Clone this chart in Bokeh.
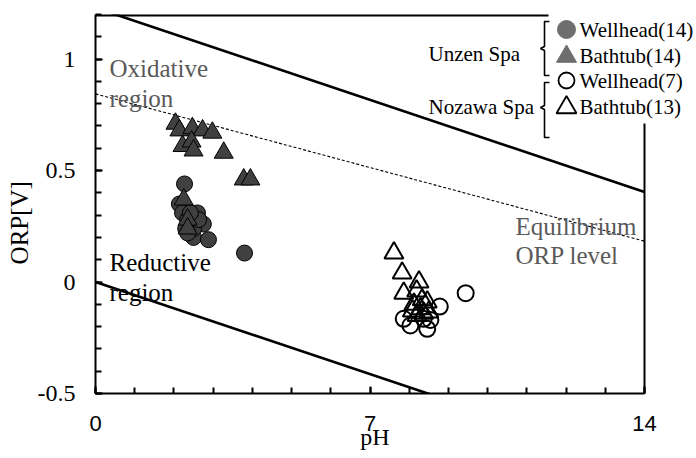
from bokeh.plotting import figure
from bokeh.models import Range1d, FixedTicker, CustomJSTickFormatter, Label
from bokeh.embed import file_html
from bokeh.resources import INLINE

# ---------------- data ----------------
unzen_well_ph = [2.27, 2.14, 2.22, 2.60, 2.75, 2.50, 2.88, 3.80, 2.35, 2.50, 2.30, 2.63, 2.42, 2.35]
unzen_well_orp = [0.44, 0.35, 0.31, 0.31, 0.26, 0.20, 0.19, 0.13, 0.28, 0.24, 0.24, 0.28, 0.31, 0.22]

unzen_bath_ph = [2.04, 2.14, 2.47, 2.73, 2.98, 2.22, 2.45, 2.50, 3.27, 3.78, 3.95, 2.25, 2.35, 2.35]
unzen_bath_orp = [0.71, 0.68, 0.69, 0.68, 0.67, 0.61, 0.63, 0.59, 0.58, 0.46, 0.46, 0.37, 0.28, 0.24]

nozawa_well_ph = [9.44, 8.78, 7.86, 8.03, 8.37, 8.46, 8.54]
nozawa_well_orp = [-0.05, -0.11, -0.165, -0.195, -0.165, -0.21, -0.17]

nozawa_bath_ph = [7.61, 7.82, 8.25, 7.86, 8.19, 8.33, 8.12, 8.46, 8.08, 8.29, 8.37, 8.50, 8.20]
nozawa_bath_orp = [0.13, 0.04, 0.00, -0.05, -0.04, -0.08, -0.10, -0.09, -0.13, -0.12, -0.14, -0.135, -0.15]

line_ph = [0, 14]
upper_orp = [1.23, 0.404]
lower_orp = [0.0, -0.826]
equil_orp = [0.844, 0.183]

x_ticks = [0, 7, 14]
x_minor = list(range(0, 15))
y_ticks = [-0.5, 0, 0.5, 1]
y_minor = [round(-0.5 + 0.1 * i, 1) for i in range(0, 18)]

legend_labels = ["Wellhead(14)", "Bathtub(14)", "Wellhead(7)", "Bathtub(13)"]
group_labels = ["Unzen Spa", "Nozawa Spa"]
x_title = "pH"
y_title = "ORP[V]"

SERIF = "Liberation Serif"
SANS = "Liberation Sans"
GRAY_TEXT = "#5a5a5a"
NBSP = "\u00a0"

# layout: plot frame from x=95 to the canvas edge; pH 14 sits at x=644
FL, FR, FT, FB = 95, 644, 14, 393
W, H = 696, 458
x_end = 14 * (W - FL) / (FR - FL)

p = figure(width=W, height=H, x_range=Range1d(0, x_end), y_range=Range1d(-0.5, 1.2),
           output_backend="svg", toolbar_location=None,
           min_border_left=FL, min_border_right=0, min_border_top=FT, min_border_bottom=H - FB)
p.outline_line_color = None
p.xgrid.grid_line_color = None
p.ygrid.grid_line_color = None
p.background_fill_color = "white"
p.border_fill_color = "white"

# pixel-space helper ranges for decorations
p.extra_x_ranges = {"px": Range1d(FL, W)}
p.extra_y_ranges = {"py": Range1d(FB, FT)}

# axes
xa = p.xaxis[0]
xa.bounds = (0, 14)
xa.ticker = FixedTicker(ticks=x_ticks, minor_ticks=x_minor)
xa.axis_line_width = 2
xa.major_tick_in = 7
xa.major_tick_out = 0
xa.minor_tick_in = 6
xa.minor_tick_out = 0
xa.major_tick_line_width = 2
xa.minor_tick_line_width = 2
xa.major_label_text_font = SANS
xa.major_label_text_font_size = "22px"
xa.major_label_text_color = "black"
xa.major_label_standoff = 22
# trailing no-break spaces shift the centred title left, onto the pH 0-14 span
xa.axis_label = x_title + NBSP * 7
xa.axis_label_text_font = SERIF
xa.axis_label_text_font_size = "24px"
xa.axis_label_text_font_style = "normal"
xa.axis_label_text_color = "black"
xa.axis_label_standoff = -10

ya = p.yaxis[0]
ya.ticker = FixedTicker(ticks=y_ticks, minor_ticks=y_minor)
ya.formatter = CustomJSTickFormatter(code="return String(tick);")
ya.axis_line_width = 2
ya.major_tick_in = 7
ya.major_tick_out = 0
ya.minor_tick_in = 6
ya.minor_tick_out = 0
ya.major_tick_line_width = 2
ya.minor_tick_line_width = 2
ya.major_label_text_font = SERIF
ya.major_label_text_font_size = "24px"
ya.major_label_text_color = "black"
ya.major_label_standoff = 20
ya.axis_label = y_title + NBSP * 6
ya.axis_label_text_font = SERIF
ya.axis_label_text_font_size = "25px"
ya.axis_label_text_font_style = "normal"
ya.axis_label_text_color = "black"
ya.axis_label_standoff = 2

# frame: top edge (stops before legend) and right edge (starts below legend)
p.segment(x0=[FL], y0=[FT], x1=[548], y1=[FT],
          x_range_name="px", y_range_name="py", line_color="black", line_width=4)
p.segment(x0=[FR], y0=[123], x1=[FR], y1=[FB + 1],
          x_range_name="px", y_range_name="py", line_color="black", line_width=2)

# reference lines
p.line(line_ph, upper_orp, line_color="black", line_width=2.6)
p.line(line_ph, lower_orp, line_color="black", line_width=2.6)
p.line(line_ph, equil_orp, line_color="black", line_width=1.1, line_dash="3 2")

# data markers
p.scatter(unzen_well_ph, unzen_well_orp, marker="circle", size=16,
          fill_color="#404040", line_color="black", line_width=1)
p.scatter(unzen_bath_ph, unzen_bath_orp, marker="triangle", size=19,
          fill_color="#404040", line_color="black", line_width=1)
p.scatter(nozawa_well_ph, nozawa_well_orp, marker="circle", size=16,
          fill_color=None, line_color="black", line_width=2)
p.scatter(nozawa_bath_ph, nozawa_bath_orp, marker="triangle", size=19,
          fill_color=None, line_color="black", line_width=2)

# legend markers (pixel space)
p.scatter([566], [29], marker="circle", size=18, fill_color="#6e6e6e", line_color="#6e6e6e",
          x_range_name="px", y_range_name="py")
p.scatter([566], [56], marker="triangle", size=20, fill_color="#6e6e6e", line_color="#6e6e6e",
          x_range_name="px", y_range_name="py")
p.scatter([566], [80], marker="circle", size=16, fill_color=None, line_color="black", line_width=1.8,
          x_range_name="px", y_range_name="py")
p.scatter([566], [107], marker="triangle", size=20, fill_color=None, line_color="black", line_width=1.8,
          x_range_name="px", y_range_name="py")

# brackets
p.line([549, 544, 544, 540, 544, 544, 549], [21, 21, 46, 48, 50, 75, 75],
       x_range_name="px", y_range_name="py", line_color="black", line_width=1.6)
p.line([549, 544, 544, 540, 544, 544, 549], [82, 82, 105, 107, 109, 137, 137],
       x_range_name="px", y_range_name="py", line_color="black", line_width=1.6)


def lab(text, x, y, size, color="black", font=SERIF, align="left", baseline="alphabetic"):
    p.add_layout(Label(x=x, y=y, text=text, x_range_name="px", y_range_name="py",
                       text_font=font, text_font_size=size, text_color=color,
                       text_align=align, text_baseline=baseline))


# legend texts
for t, yy in zip(legend_labels, [29, 55, 80, 106]):
    lab(t, 579, yy, "21px", baseline="middle")
lab(group_labels[0], 428, 53, "21px", baseline="middle")
lab(group_labels[1], 428, 106, "21px", baseline="middle")

# region texts
lab("Oxidative", 109, 68, "25px", color=GRAY_TEXT)
lab("region", 109, 98, "25px", color=GRAY_TEXT)
lab("Reductive", 109, 262, "25px")
lab("region", 109, 292, "25px")
lab("Equilibrium", 515, 226, "25px", color=GRAY_TEXT)
lab("ORP level", 515, 255, "25px", color=GRAY_TEXT)

open("out.html", "w").write(file_html(p, INLINE))
